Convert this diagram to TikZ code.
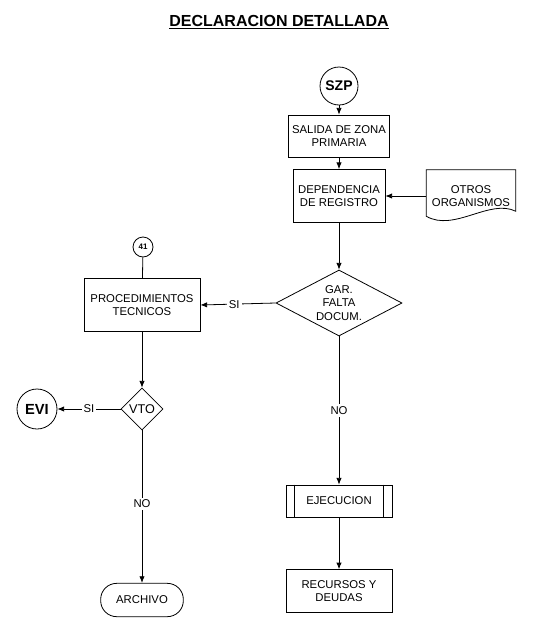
\documentclass[tikz,border=0pt]{standalone}
\usepackage{fontspec}
\setmainfont{Liberation Sans}
\usetikzlibrary{shapes.geometric,arrows.meta,calc}

\tikzset{
  txt/.style={font=\fontsize{8.5}{10}\selectfont, align=center, inner sep=0pt},
  caja/.style={txt, draw, line width=.6pt},
  rombo/.style={txt, draw, diamond, line width=.6pt},
  circ/.style={txt, draw, circle, line width=.6pt, font=\fontsize{10.5}{12}\selectfont\bfseries},
  flecha/.style={line width=.6pt, -{Latex[length=5pt,width=4pt]}},
  etiq/.style={txt, fill=white, inner sep=1.5pt},
}

\begin{document}
\begin{tikzpicture}[x=.75pt, y=-.75pt]
            \useasboundingbox (0, 0) rectangle (533, 632);
            \node[font=\fontsize{12}{14}\selectfont\bfseries] (titulo) at (279, 22) {\underline{DECLARACION DETALLADA}};
            % columna derecha
            \node[circ, minimum size=28.5pt] (szp) at (339, 86) {SZP};
            \node[caja, minimum width=75.75pt, minimum height=31.5pt] (salida) at (339, 136) {SALIDA DE ZONA\\PRIMARIA};
            \node[caja, minimum width=69pt, minimum height=39.75pt] (dep) at (339, 196) {DEPENDENCIA\\DE REGISTRO};
            \node[txt, minimum width=66.75pt, minimum height=39pt] (otros) at (471, 196) {OTROS\\ORGANISMOS};
            \draw[line width=.6pt] (otros.north west) -- (otros.north east) -- ($(otros.south east)+(0, -11)$)
                .. controls ($(otros.south east)+(-26, -24)$) and ($(otros.south west)+(28, 10)$) .. ($(otros.south west)+(0, -6)$)
                -- cycle;
            \node[rombo, minimum width=94.5pt, minimum height=49.5pt, aspect=1.9] (gar) at (339, 303) {GAR.\\FALTA\\DOCUM.};
            \node[caja, minimum width=79.5pt, minimum height=24pt] (ejec) at (339, 501) {EJECUCION};
            \draw[line width=.6pt] ([xshift=6.75pt]ejec.north west) -- ([xshift=6.75pt]ejec.south west);
            \draw[line width=.6pt] ([xshift=-6.75pt]ejec.north east) -- ([xshift=-6.75pt]ejec.south east);
            \node[caja, minimum width=79.5pt, minimum height=32pt] (rec) at (339, 591) {RECURSOS Y\\DEUDAS};
            % columna izquierda
            \node[circ, minimum size=15pt, font=\fontsize{6}{7}\selectfont\bfseries] (c41) at (143, 247) {41};
            \node[caja, minimum width=87pt, minimum height=40pt] (proc) at (142, 305) {PROCEDIMIENTOS\\TECNICOS};
            \node[rombo, minimum width=31.5pt, minimum height=31.5pt, font=\fontsize{9.5}{11}\selectfont] (vto) at (142, 409) {VTO};
            \node[circ, minimum size=30pt, font=\fontsize{11}{13}\selectfont\bfseries] (evi) at (37, 409) {EVI};
            \node[caja, minimum width=62pt, minimum height=25pt, rounded corners=12pt] (arch) at (142, 600) {ARCHIVO};
            % conexiones
            \draw[flecha] (szp) -- (salida);
            \draw[flecha] (salida) -- (dep);
            \draw[flecha] (otros.west) -- (dep.east);
            \draw[flecha] (dep) -- (gar);
            \draw[flecha] (gar.west) -- node[etiq, pos=.55]{SI} (proc.east);
            \draw[line width=.6pt] (c41) -- (proc);
            \draw[flecha] (proc) -- (vto);
            \draw[flecha] (vto.west) -- node[etiq]{SI} (evi.east);
            \draw[flecha] (vto.south) -- node[etiq, pos=.48]{NO} (arch.north);
            \draw[flecha] (gar.south) -- node[etiq]{NO} (ejec.north);
            \draw[flecha] (ejec) -- (rec);
        \end{tikzpicture}
\end{document}
